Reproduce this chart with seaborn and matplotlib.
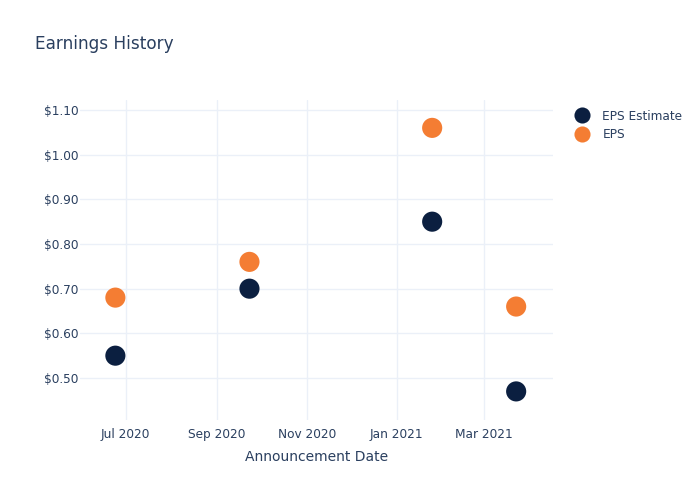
import matplotlib
matplotlib.use("Agg")
import matplotlib.pyplot as plt
import matplotlib.dates as mdates
import matplotlib.ticker as mticker
import seaborn as sns
import pandas as pd

dates = ["2020-06-24", "2020-09-23", "2021-01-25", "2021-03-23"]
eps_estimate = [0.55, 0.70, 0.85, 0.47]
eps_actual = [0.68, 0.76, 1.06, 0.66]
series_names = ["EPS Estimate", "EPS"]
colors = ["#0B1F40", "#F47D33"]

df = pd.DataFrame({
    "date": pd.to_datetime(dates * 2),
    "value": eps_estimate + eps_actual,
    "series": [series_names[0]] * len(dates) + [series_names[1]] * len(dates),
})

sns.set_theme(style="white")
plt.rcParams["font.family"] = ["DejaVu Sans"]
text_color = "#2a3f5f"
grid_color = "#EBF0F8"

fig = plt.figure(figsize=(7, 5), dpi=100)
ax = fig.add_axes([0.1143, 0.16, 0.6757, 0.64])

sns.scatterplot(data=df, x="date", y="value", hue="series", palette=colors,
                s=210, edgecolor="none", linewidth=0, ax=ax, zorder=3, legend=True)

ax.set_xlim(pd.Timestamp("2020-05-31"), pd.Timestamp("2021-04-17"))
ax.set_ylim(0.406, 1.1224)
ax.set_xticks([pd.Timestamp(d) for d in ["2020-07-01", "2020-09-01", "2020-11-01", "2021-01-01", "2021-03-01"]])
ax.xaxis.set_major_formatter(mdates.DateFormatter("%b %Y"))
ax.yaxis.set_major_locator(mticker.MultipleLocator(0.10))
ax.yaxis.set_major_formatter(mticker.FuncFormatter(lambda v, p: f"${v:.2f}"))

ax.grid(True, color=grid_color, linewidth=1)
ax.set_axisbelow(True)
for s in ax.spines.values():
    s.set_visible(False)
ax.tick_params(axis="both", length=0, labelsize=8.7, colors=text_color)
ax.tick_params(axis="y", pad=1)
ax.tick_params(axis="x", pad=6)

ax.set_xlabel("Announcement Date", fontsize=10, color=text_color, labelpad=6.5)
ax.set_ylabel("")

fig.text(0.05, 0.912, "Earnings History", fontsize=12.2, color=text_color, ha="left", va="center")

handles, labels = ax.get_legend_handles_labels()
ax.legend(handles, labels, loc="upper left", bbox_to_anchor=(1.025, 0.985), frameon=False,
          fontsize=8.7, labelcolor=text_color, markerscale=0.8, handletextpad=0.7,
          labelspacing=0.45, borderaxespad=0.0)

fig.savefig("out.png", dpi=100)
